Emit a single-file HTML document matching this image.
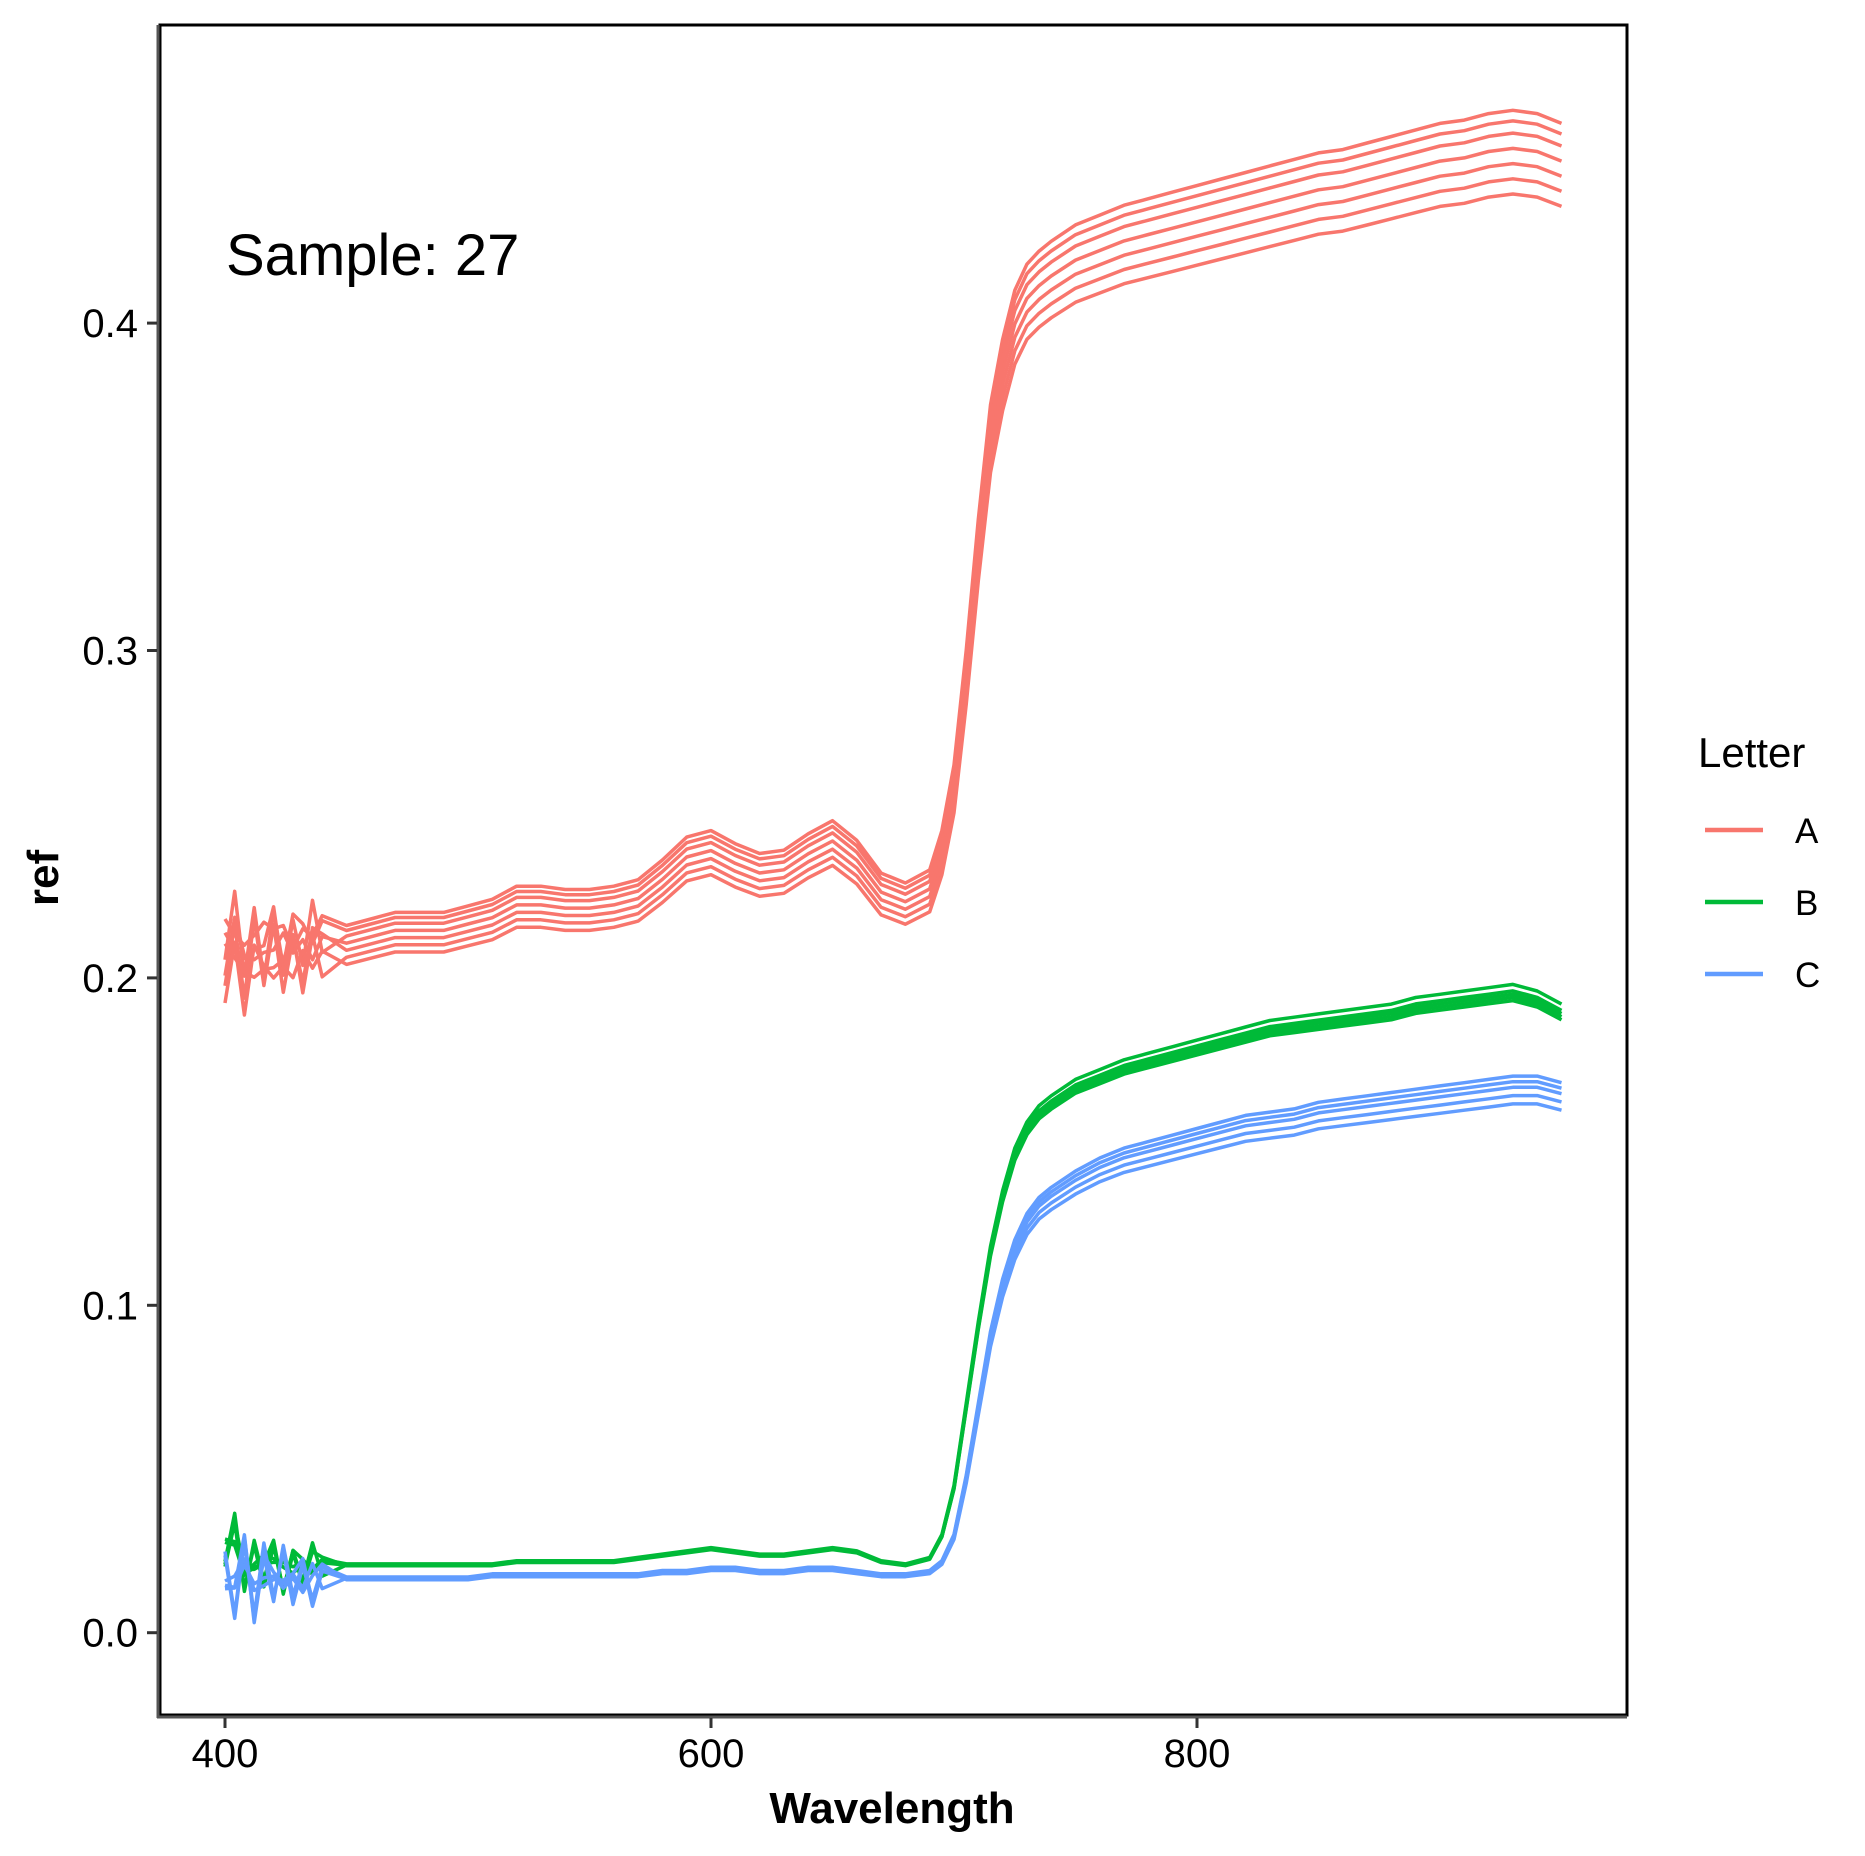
<!DOCTYPE html>
<html><head><meta charset="utf-8">
<style>
html,body{margin:0;padding:0;background:#fff;}
svg{display:block;font-family:"Liberation Sans",Arial,sans-serif;}
</style></head>
<body>
<svg id="chart" width="1865" height="1856" viewBox="0 0 1865 1856" xmlns="http://www.w3.org/2000/svg">
  <rect x="0" y="0" width="1865" height="1856" fill="#fff"/>
  <g id="series"></g>
  <g id="axes"></g>
  <text x="226" y="275" font-size="58" fill="#000">Sample: 27</text>
  <text x="892" y="1823" font-size="44" font-weight="bold" text-anchor="middle">Wavelength</text>
  <text transform="translate(58,878) rotate(-90)" font-size="44" font-weight="bold" text-anchor="middle">ref</text>
  <g>
    <text x="1698" y="767" font-size="42">Letter</text>
    <line x1="1705" y1="830" x2="1763" y2="830" stroke="#F8766D" stroke-width="4.5"/>
    <text x="1795" y="843" font-size="35">A</text>
    <line x1="1705" y1="902" x2="1763" y2="902" stroke="#00BA38" stroke-width="4.5"/>
    <text x="1795" y="915" font-size="35">B</text>
    <line x1="1705" y1="974" x2="1763" y2="974" stroke="#619CFF" stroke-width="4.5"/>
    <text x="1795" y="987" font-size="35">C</text>
  </g>
</svg>
<script>
const wavelengths = [400,404,408,412,416,420,424,428,432,436,440,
450,460,470,480,490,500,510,520,530,540,550,560,570,580,590,600,610,620,630,640,650,660,670,680,690,
695,700,705,710,715,720,725,730,735,
740,750,760,770,780,790,800,810,820,830,840,850,860,870,880,890,900,910,920,930,940,950];
const baseA = [.212,.220,.206,.218,.209,.219,.211,.217,.212,.219,.215,
.216,.218,.220,.220,.220,.222,.224,.228,.228,.227,.227,.228,.230,.236,.243,.245,.241,.238,.239,.244,.248,.242,.232,.229,.233,
.245,.265,.300,.340,.375,.395,.410,.418,.422,
.425,.430,.433,.436,.438,.440,.442,.444,.446,.448,.450,.452,.453,.455,.457,.459,.461,.462,.464,.465,.464,.461];
const baseB = [.025,.032,.016,.024,.019,.025,.017,.023,.019,.023,.020,
.021,.021,.021,.021,.021,.021,.021,.022,.022,.022,.022,.022,.023,.024,.025,.026,.025,.024,.024,.025,.026,.025,.022,.021,.023,
.030,.045,.070,.095,.118,.135,.148,.156,.161,
.164,.169,.172,.175,.177,.179,.181,.183,.185,.187,.188,.189,.190,.191,.192,.194,.195,.196,.197,.198,.196,.192];
const baseC = [.020,.011,.026,.009,.021,.014,.021,.015,.018,.015,.017,
.017,.017,.017,.017,.017,.017,.018,.018,.018,.018,.018,.018,.018,.019,.019,.020,.020,.019,.019,.020,.020,.019,.018,.018,.019,
.022,.030,.048,.070,.092,.108,.120,.128,.133,
.136,.141,.145,.148,.150,.152,.154,.156,.158,.159,.160,.162,.163,.164,.165,.166,.167,.168,.169,.170,.170,.168,.165];
const factorsA = [1.0,0.993,0.985,0.975,0.965,0.955,0.945];
const factorsB = [1.0,0.99,0.985,0.98,0.975];
const factorsC = [1.0,0.99,0.98,0.965,0.95];
const jitter = [0.006,-0.007,0.004,-0.005,0.008,-0.004,0.005,-0.008,0.003,-0.006,0.004];
const xTicks = [400,600,800];
const yTicks = [0.0,0.1,0.2,0.3,0.4];
const yTickLabels = ["0.0","0.1","0.2","0.3","0.4"];

const NS="http://www.w3.org/2000/svg";
const PL=160, PR=1627, PT=25, PB=1715;
function xScale(w){return 225+(w-400)*(486/200);}
function yScale(v){return 1632.7-v*3274;}
const series=document.getElementById('series');
const axes=document.getElementById('axes');
function drawGroup(base,factors,color,jamp){
  factors.forEach((f,i)=>{
    let d='';
    wavelengths.forEach((w,j)=>{
      let v=base[j]*f;
      if(j<11) v+=jitter[(j+i*3)%11]*jamp;
      d+=(j?'L':'M')+xScale(w).toFixed(1)+','+yScale(v).toFixed(1);
    });
    const p=document.createElementNS(NS,'path');
    p.setAttribute('d',d);p.setAttribute('fill','none');p.setAttribute('stroke',color);
    p.setAttribute('stroke-width','3.5');p.setAttribute('stroke-linejoin','round');
    
    
    series.appendChild(p);
  });
}
drawGroup(baseA,factorsA,'#F8766D',1.0);
drawGroup(baseB,factorsB,'#00BA38',0.6);
drawGroup(baseC,factorsC,'#619CFF',0.8);

function mk(tag,attrs){const e=document.createElementNS(NS,tag);for(const k in attrs)e.setAttribute(k,attrs[k]);axes.appendChild(e);return e;}
const border=mk('rect',{x:PL,y:PT,width:PR-PL,height:PB-PT,fill:'none',stroke:'#000','stroke-width':3});


const la=mk('line',{x1:PL-2,y1:PT,x2:PL-2,y2:PB+3,stroke:'#555','stroke-width':3});


const ba=mk('line',{x1:PL-3,y1:PB+2,x2:PR,y2:PB+2,stroke:'#555','stroke-width':3});


xTicks.forEach(t=>{
  const x=xScale(t);
  const tk=mk('line',{x1:x,y1:PB+3,x2:x,y2:PB+13,stroke:'#333','stroke-width':3});
  
  
  const tx=mk('text',{x:x,y:PB+52,'font-size':40,'text-anchor':'middle',fill:'#000'});
  tx.textContent=String(t);
  
  
});
yTicks.forEach((t,i)=>{
  const y=yScale(t);
  const tk=mk('line',{x1:PL-13,y1:y,x2:PL-3,y2:y,stroke:'#333','stroke-width':3});
  
  
  const tx=mk('text',{x:PL-22,y:y+14,'font-size':40,'text-anchor':'end',fill:'#000'});
  tx.textContent=yTickLabels[i];
  
  
});
</script>
</body></html>
